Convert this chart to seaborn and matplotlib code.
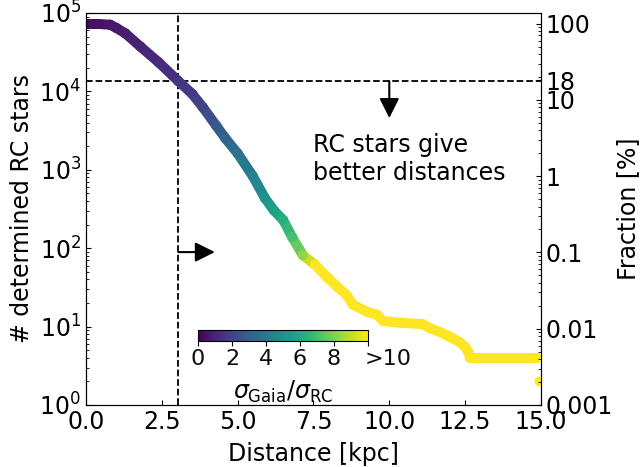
import numpy as np
import pandas as pd
import matplotlib
matplotlib.use("Agg")
import matplotlib.pyplot as plt
from matplotlib.collections import LineCollection
from matplotlib.colors import Normalize
import matplotlib.cm as cm
import seaborn as sns

# ---- data ----
distance_kpc = [0.0, 0.4, 0.8, 1.0, 1.3, 1.8, 2.4, 3.05, 3.5, 3.85, 4.3, 4.6,
                5.0, 5.5, 5.9, 6.2, 6.5, 6.8, 7.15, 7.55, 7.95, 8.28, 8.6, 8.8,
                9.26, 9.6, 9.8, 10.35, 11.1, 11.34, 11.67, 12.0, 12.33, 12.5,
                12.6, 12.66, 13.2, 13.8, 14.4, 14.87, 14.95]
log_n_stars = [4.86, 4.86, 4.85, 4.81, 4.74, 4.57, 4.37, 4.13, 3.97, 3.80, 3.56, 3.40,
               3.21, 2.92, 2.64, 2.48, 2.36, 2.14, 1.91, 1.79, 1.63, 1.51, 1.40, 1.28,
               1.19, 1.15, 1.07, 1.05, 1.03, 0.98, 0.93, 0.87, 0.80, 0.74,
               0.68, 0.60, 0.60, 0.60, 0.60, 0.60, 0.30]
sigma_ratio = [0.3, 0.45, 0.6, 0.7, 0.85, 1.0, 1.25, 1.5, 1.75, 2.0, 2.7, 3.2,
               3.7, 4.4, 5.0, 5.7, 6.3, 7.0, 8.3, 10, 10, 10, 10, 10,
               10, 10, 10, 10, 10, 10, 10, 10, 10, 10,
               10, 10, 10, 10, 10, 10, 10]

cbar_ticks = [0, 2, 4, 6, 8, 10]
cbar_ticklabels = ["0", "2", "4", "6", "8", ">10"]
frac_ticks = [0.001, 0.01, 0.1, 1, 10, 18, 100]
frac_ticklabels = ["0.001", "0.01", "0.1", "1", "10", "18", "100"]
d_cut = 3.05
n_cut = 10 ** 4.13

df = pd.DataFrame({"d": distance_kpc,
                   "n": np.power(10.0, log_n_stars),
                   "ratio": sigma_ratio})

sns.set_style("ticks")
plt.rcParams["font.family"] = ["DejaVu Sans"]
plt.rcParams["font.size"] = 17
plt.rcParams["mathtext.fontset"] = "dejavusans"
for k in ["text.color", "axes.labelcolor", "xtick.color", "ytick.color",
          "axes.edgecolor"]:
    plt.rcParams[k] = "black"

FS = 17
fig = plt.figure(figsize=(6.41, 4.67), dpi=100)
ax = fig.add_axes([0.134, 0.1328, 0.710, 0.8394])

norm = Normalize(0, 10)
cmap = plt.get_cmap("viridis")

pts = np.column_stack([df["d"], df["n"]])
segs = np.stack([pts[:-2], pts[1:-1]], axis=1)
seg_c = 0.5 * (df["ratio"].values[:-2] + df["ratio"].values[1:-1])
lc = LineCollection(segs, cmap=cmap, norm=norm, linewidths=7.2,
                    capstyle="round", joinstyle="round", zorder=2)
lc.set_array(seg_c)
ax.add_collection(lc)

sns.scatterplot(data=df, x="d", y="n", hue="ratio", palette="viridis",
                hue_norm=(0, 10), s=52, linewidth=0, legend=False, ax=ax,
                zorder=3)

ax.set_yscale("log")
ax.set_xlim(0, 15)
ax.set_ylim(1, 1e5)
ax.axvline(d_cut, color="k", ls="--", lw=1.3, zorder=1)
ax.axhline(n_cut, color="k", ls="--", lw=1.3, zorder=1)

ax.annotate("", xy=(10.0, 10 ** 3.66), xytext=(10.0, n_cut),
            arrowprops=dict(arrowstyle="-|>", color="k", lw=1.5,
                            mutation_scale=30, shrinkA=0, shrinkB=0))
ax.annotate("", xy=(4.25, 10 ** 1.95), xytext=(d_cut, 10 ** 1.95),
            arrowprops=dict(arrowstyle="-|>", color="k", lw=1.5,
                            mutation_scale=30, shrinkA=0, shrinkB=0))
ax.text(7.48, 10 ** 3.14, "RC stars give\nbetter distances", fontsize=FS,
        ha="left", va="center", linespacing=1.2)

ax.set_xlabel("Distance [kpc]", fontsize=FS, labelpad=6)
ax.set_ylabel("# determined RC stars", fontsize=FS, labelpad=4)
ax.set_xticks([0, 2.5, 5, 7.5, 10, 12.5, 15])
ax.set_xticklabels(["0.0", "2.5", "5.0", "7.5", "10.0", "12.5", "15.0"])
ax.tick_params(axis="both", which="both", direction="in", labelsize=FS)
ax.tick_params(axis="x", which="both", top=False)

ax2 = ax.twinx()
ax2.set_yscale("log")
ax2.set_ylim(0.001, 138)
ax2.set_yticks(frac_ticks)
ax2.set_yticklabels(frac_ticklabels)
ax2.tick_params(axis="y", which="both", direction="in", labelsize=FS, pad=3)
ax2.set_ylabel("Fraction [%]", fontsize=FS, labelpad=3)

cb_left, cb_bottom, cb_w, cb_h = 0.309, 0.270, 0.265, 0.0236
cax = fig.add_axes([cb_left, cb_bottom, cb_w, cb_h])
sm = cm.ScalarMappable(norm=norm, cmap=cmap)
cb = fig.colorbar(sm, cax=cax, orientation="horizontal", ticks=cbar_ticks)
cax.set_xticklabels([""] * len(cbar_ticks))
cax.tick_params(axis="x", pad=2, length=3.5, direction="out")
for t, lab in zip(cbar_ticks, cbar_ticklabels):
    is_last = lab.startswith(">")
    fx = cb_left + cb_w * (t - norm.vmin) / (norm.vmax - norm.vmin)
    if is_last:
        fx -= 3.0 / 641
    fig.text(fx, cb_bottom - 8.0 / 467, lab, fontsize=16, color="0.05",
             ha="left" if is_last else "center", va="top", zorder=20)
cb.set_label(r"$\sigma_{\rm Gaia}/\sigma_{\rm RC}$", fontsize=FS, labelpad=22)

fig.savefig("out.png", dpi=100)
